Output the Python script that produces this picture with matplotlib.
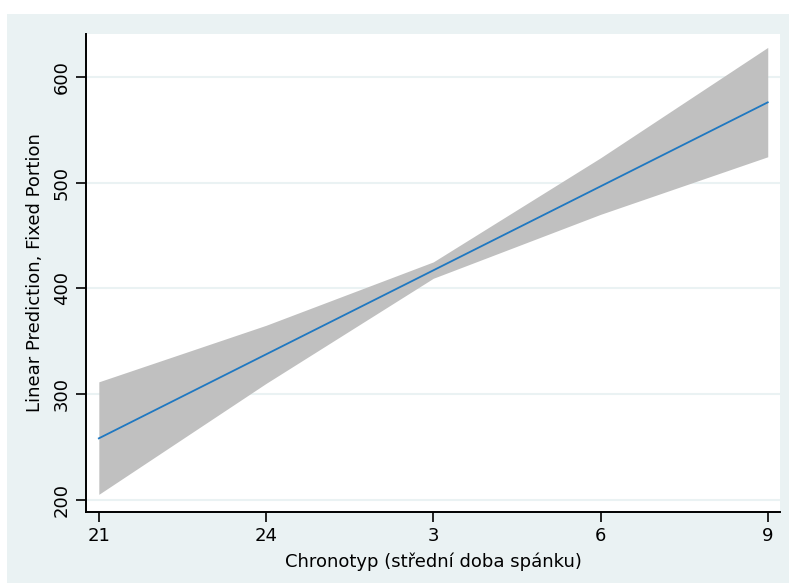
import numpy as np
import matplotlib.pyplot as plt
from matplotlib.patches import Rectangle

# predicted values at each hour of the chronotype scale (21h .. 9h next day)
hours = [21, 24, 27, 30, 33]
hour_labels = ['21', '24', '3', '6', '9']
prediction = [258, 337.5, 417, 496.5, 576]
ci_low = [205, 310, 409.5, 470, 524.5]
ci_high = [311.5, 365, 425, 523.5, 628]

bg = '#EAF2F3'

fig = plt.figure(figsize=(7.89, 5.83), dpi=100, facecolor='white')
# graph region background
fig.patches.append(Rectangle((7 / 789, 0), 1, 1 - 14 / 583, transform=fig.transFigure,
                             facecolor=bg, edgecolor='none', zorder=-10))

ax = fig.add_axes([86 / 789, 1 - 512 / 583, (780 - 86) / 789, (512 - 34) / 583])
ax.set_facecolor('white')

ax.fill_between(hours, ci_low, ci_high, color='#C0C0C0', linewidth=0, zorder=2)
ax.plot(hours, prediction, color='#1F78C1', linewidth=1.3, zorder=3)

ax.set_xlim(20.77, 33.22)
ax.set_ylim(188.3, 640.7)
ax.set_xticks(hours)
ax.set_xticklabels(hour_labels)
ax.set_yticks([200, 300, 400, 500, 600])
ax.grid(axis='y', color=bg, linewidth=1.5, zorder=1)
ax.set_axisbelow(True)

for side in ['top', 'right']:
    ax.spines[side].set_visible(False)
for side in ['left', 'bottom']:
    ax.spines[side].set_linewidth(1.4)
    ax.spines[side].set_color('black')

ax.tick_params(axis='both', direction='out', length=7, width=1.2, labelsize=13,
               colors='black', pad=4)
plt.setp(ax.get_yticklabels(), rotation=90, va='center')

ax.set_xlabel('Chronotyp (střední doba spánku)', fontsize=13, labelpad=5)
ax.set_ylabel('Linear Prediction, Fixed Portion', fontsize=13, labelpad=6)

fig.savefig('out.png', dpi=100, facecolor=fig.get_facecolor())
